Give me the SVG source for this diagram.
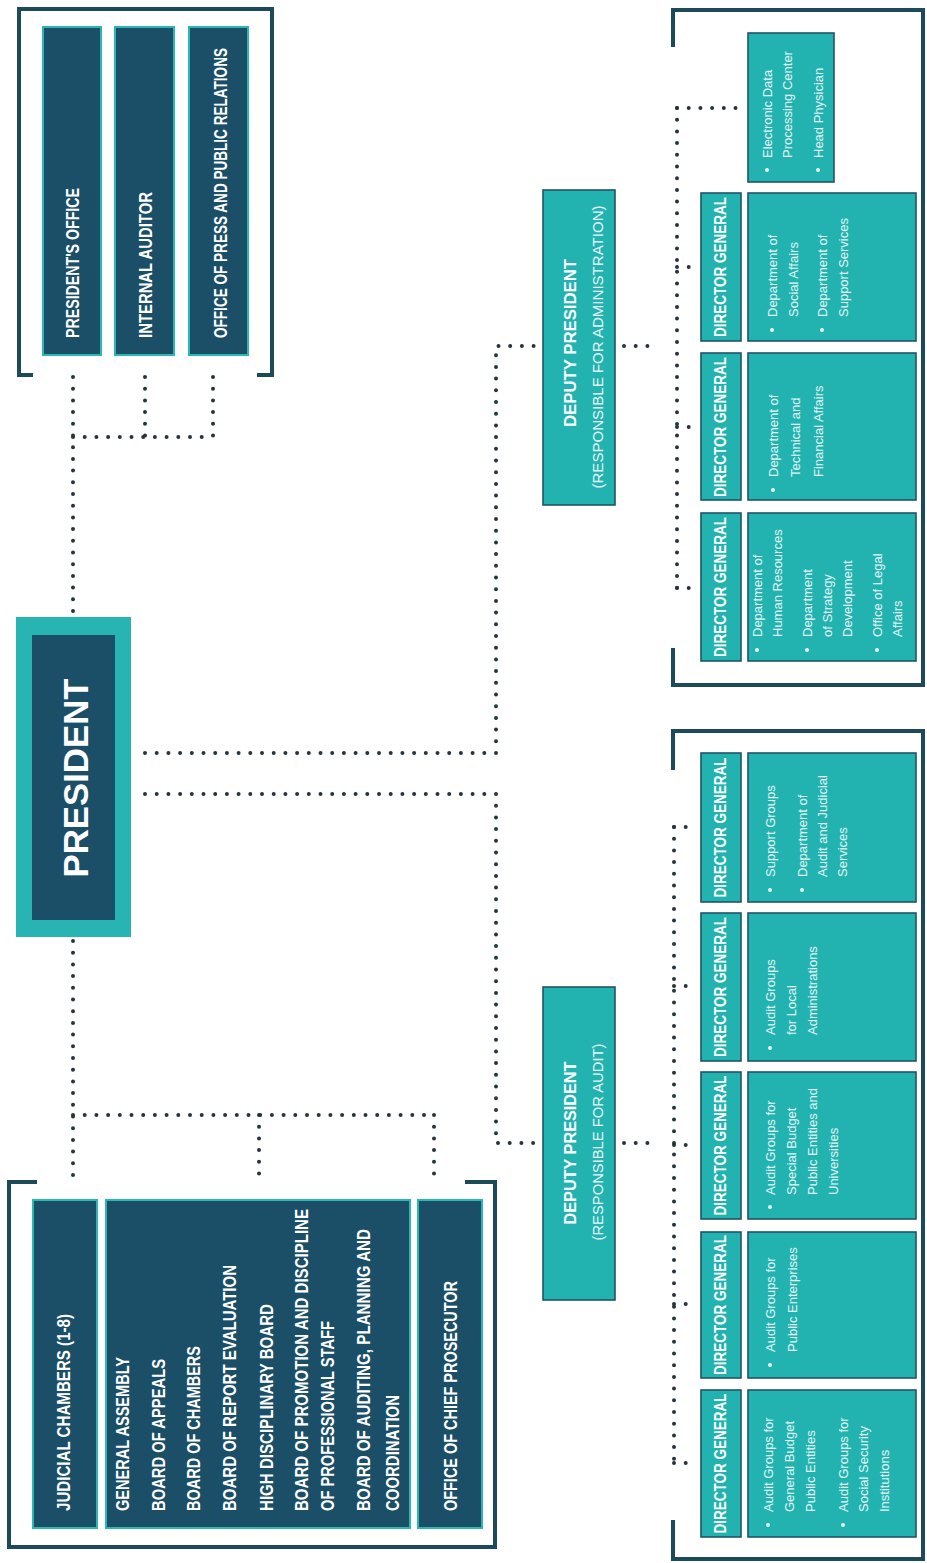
<svg xmlns="http://www.w3.org/2000/svg" width="927" height="1563" viewBox="0 0 927 1563">
<style>
.bg{fill:#ffffff}
.dark{fill:#1b4e67;stroke:#2ab7b5;stroke-width:2}
.teal{fill:#22b3b1;stroke:#1e5568;stroke-width:1.6}
.frame{fill:none;stroke:#1d4a5b;stroke-width:4}
.dots{fill:none;stroke:#26343d;stroke-width:4;stroke-linecap:round;stroke-dasharray:0 11.7}
.t{font-family:"Liberation Sans Narrow","Liberation Sans",Arial,sans-serif;fill:#ffffff}
.cap{font-size:18px;font-weight:bold}
.pres{font-size:35px;font-weight:bold;font-family:"Liberation Sans",Arial,sans-serif;fill:#ffffff}
.dp1{font-size:16px;font-weight:bold}
.dp2{font-size:14px;fill:#e8f7f6}
.dg{font-size:17px;font-weight:bold}
.b{font-size:13px;fill:#e3f5f4;font-family:"Liberation Sans",Arial,sans-serif}
.bul{fill:#e3f5f4}
</style>
<rect class="bg" x="0" y="0" width="927" height="1563"/>

<g id="connectors">
<path class="dots" d="M73,377 V615"/>
<path class="dots" d="M73,437 H213"/>
<path class="dots" d="M145,377 V437"/>
<path class="dots" d="M213,377 V437"/>
<path class="dots" d="M73,941 V1178"/>
<path class="dots" d="M73,1115 H434"/>
<path class="dots" d="M259,1115 V1178"/>
<path class="dots" d="M434,1115 V1178"/>
<path class="dots" d="M145,753 H496 V346 H540"/>
<path class="dots" d="M145,794 H496 V1143 H540"/>
<path class="dots" d="M624,346 H656"/>
<path class="dots" d="M624,1143 H656"/>
<path class="dots" d="M677,108 V588"/>
<path class="dots" d="M677,108 H742"/>
<path class="dots" d="M677,267 H697"/>
<path class="dots" d="M677,427 H697"/>
<path class="dots" d="M677,588 H697"/>
<path class="dots" d="M674,827 V1463"/>
<path class="dots" d="M674,827 H697"/>
<path class="dots" d="M674,986 H697"/>
<path class="dots" d="M674,1145 H697"/>
<path class="dots" d="M674,1304 H697"/>
<path class="dots" d="M674,1463 H697"/>
</g>

<g id="staff-group">
<path class="frame" d="M33,375 H19 V9 H272 V375 H257"/>
<g id="presidents-office">
<rect class="dark" x="43" y="27" width="58" height="328"/>
<text class="t cap" transform="translate(78.5,338) rotate(-90)" textLength="150" lengthAdjust="spacingAndGlyphs">PRESIDENT'S OFFICE</text>
</g>
<g id="internal-auditor">
<rect class="dark" x="115" y="27" width="59" height="328"/>
<text class="t cap" transform="translate(151.5,338) rotate(-90)" textLength="146" lengthAdjust="spacingAndGlyphs">INTERNAL AUDITOR</text>
</g>
<g id="press-office">
<rect class="dark" x="189" y="27" width="59" height="328"/>
<text class="t cap" transform="translate(226.5,338) rotate(-90)" textLength="290" lengthAdjust="spacingAndGlyphs">OFFICE OF PRESS AND PUBLIC RELATIONS</text>
</g>
</g>

<g id="president">
<rect x="16" y="617" width="115" height="320" fill="#27b4b3"/>
<rect x="32" y="635" width="83" height="285" fill="#1b4e67"/>
<text class="pres" transform="translate(87.5,778) rotate(-90)" text-anchor="middle" textLength="199" lengthAdjust="spacingAndGlyphs">PRESIDENT</text>
</g>

<g id="boards-group">
<path class="frame" d="M37,1182 H9 V1547 H495 V1182 H465"/>
<g id="judicial-chambers">
<rect class="dark" x="33" y="1200" width="64" height="328"/>
<text class="t cap" transform="translate(69.5,1511) rotate(-90)" textLength="197" lengthAdjust="spacingAndGlyphs">JUDICIAL CHAMBERS (1-8)</text>
</g>
<g id="boards">
<rect class="dark" x="106" y="1200" width="304" height="328"/>
<text class="t cap" transform="translate(128.5,1511) rotate(-90)" textLength="154" lengthAdjust="spacingAndGlyphs">GENERAL ASSEMBLY</text>
<text class="t cap" transform="translate(164.5,1511) rotate(-90)" textLength="152" lengthAdjust="spacingAndGlyphs">BOARD OF APPEALS</text>
<text class="t cap" transform="translate(199.5,1511) rotate(-90)" textLength="165" lengthAdjust="spacingAndGlyphs">BOARD OF CHAMBERS</text>
<text class="t cap" transform="translate(235.5,1511) rotate(-90)" textLength="246" lengthAdjust="spacingAndGlyphs">BOARD OF REPORT EVALUATION</text>
<text class="t cap" transform="translate(272.5,1511) rotate(-90)" textLength="207" lengthAdjust="spacingAndGlyphs">HIGH DISCIPLINARY BOARD</text>
<text class="t cap" transform="translate(307.5,1511) rotate(-90)" textLength="302" lengthAdjust="spacingAndGlyphs">BOARD OF PROMOTION AND DISCIPLINE</text>
<text class="t cap" transform="translate(333.5,1511) rotate(-90)" textLength="190" lengthAdjust="spacingAndGlyphs">OF PROFESSIONAL STAFF</text>
<text class="t cap" transform="translate(369.5,1511) rotate(-90)" textLength="282" lengthAdjust="spacingAndGlyphs">BOARD OF AUDITING, PLANNING AND</text>
<text class="t cap" transform="translate(398.5,1511) rotate(-90)" textLength="116" lengthAdjust="spacingAndGlyphs">COORDINATION</text>
</g>
<g id="chief-prosecutor">
<rect class="dark" x="418" y="1200" width="64" height="328"/>
<text class="t cap" transform="translate(456.5,1511) rotate(-90)" textLength="230" lengthAdjust="spacingAndGlyphs">OFFICE OF CHIEF PROSECUTOR</text>
</g>
</g>

<g id="deputy-admin">
<rect class="teal" x="543" y="190" width="72" height="315"/>
<text class="t dp1" transform="translate(576,343) rotate(-90)" text-anchor="middle" textLength="168" lengthAdjust="spacingAndGlyphs">DEPUTY PRESIDENT</text>
<text class="t dp2" transform="translate(603,347) rotate(-90)" text-anchor="middle" textLength="283" lengthAdjust="spacingAndGlyphs">(RESPONSIBLE FOR ADMINISTRATION)</text>
</g>

<g id="deputy-audit">
<rect class="teal" x="543" y="987" width="72" height="313"/>
<text class="t dp1" transform="translate(576,1143) rotate(-90)" text-anchor="middle" textLength="163" lengthAdjust="spacingAndGlyphs">DEPUTY PRESIDENT</text>
<text class="t dp2" transform="translate(603,1142) rotate(-90)" text-anchor="middle" textLength="197" lengthAdjust="spacingAndGlyphs">(RESPONSIBLE FOR AUDIT)</text>
</g>

<g id="admin-group">
<path class="frame" d="M673,47 V10 H923 V685 H673 V648"/>
<g id="admin-units">
<rect class="teal" x="748" y="33" width="86" height="149"/>
<circle class="bul" cx="767" cy="170" r="2"/>
<text class="b" transform="translate(771.7,158) rotate(-90)">Electronic Data</text>
<text class="b" transform="translate(791.7,158) rotate(-90)">Processing Center</text>
<circle class="bul" cx="818" cy="170" r="2"/>
<text class="b" transform="translate(822.7,158) rotate(-90)">Head Physician</text>
</g>
<g id="admin-dg1">
<rect class="teal" x="701" y="193" width="40" height="148"/>
<text class="t dg" transform="translate(726,267) rotate(-90)" text-anchor="middle" textLength="140" lengthAdjust="spacingAndGlyphs">DIRECTOR GENERAL</text>
<rect class="teal" x="748" y="193" width="168" height="148"/>
<circle class="bul" cx="772" cy="330" r="2"/>
<text class="b" transform="translate(776.7,317) rotate(-90)">Department of</text>
<text class="b" transform="translate(797.7,317) rotate(-90)">Social Affairs</text>
<circle class="bul" cx="822" cy="330" r="2"/>
<text class="b" transform="translate(826.7,317) rotate(-90)">Department of</text>
<text class="b" transform="translate(847.7,317) rotate(-90)">Support Services</text>
</g>
<g id="admin-dg2">
<rect class="teal" x="701" y="353" width="40" height="147"/>
<text class="t dg" transform="translate(726,427) rotate(-90)" text-anchor="middle" textLength="140" lengthAdjust="spacingAndGlyphs">DIRECTOR GENERAL</text>
<rect class="teal" x="748" y="353" width="168" height="147"/>
<circle class="bul" cx="773" cy="490" r="2"/>
<text class="b" transform="translate(777.7,477) rotate(-90)">Department of</text>
<text class="b" transform="translate(799.7,477) rotate(-90)">Technical and</text>
<text class="b" transform="translate(822.7,477) rotate(-90)">Financial Affairs</text>
</g>
<g id="admin-dg3">
<rect class="teal" x="701" y="513" width="40" height="148"/>
<text class="t dg" transform="translate(726,587) rotate(-90)" text-anchor="middle" textLength="140" lengthAdjust="spacingAndGlyphs">DIRECTOR GENERAL</text>
<rect class="teal" x="748" y="513" width="168" height="148"/>
<circle class="bul" cx="757" cy="650" r="2"/>
<text class="b" transform="translate(761.7,637) rotate(-90)">Department of</text>
<text class="b" transform="translate(781.7,637) rotate(-90)">Human Resources</text>
<circle class="bul" cx="807" cy="650" r="2"/>
<text class="b" transform="translate(811.7,637) rotate(-90)">Department</text>
<text class="b" transform="translate(831.7,637) rotate(-90)">of Strategy</text>
<text class="b" transform="translate(851.7,637) rotate(-90)">Development</text>
<circle class="bul" cx="877" cy="650" r="2"/>
<text class="b" transform="translate(881.7,637) rotate(-90)">Office of Legal</text>
<text class="b" transform="translate(901.7,637) rotate(-90)">Affairs</text>
</g>
</g>

<g id="audit-group">
<path class="frame" d="M673,770 V731 H923 V1559 H673 V1520"/>
<g id="audit-dg1">
<rect class="teal" x="701" y="753" width="40" height="149"/>
<text class="t dg" transform="translate(726,827.5) rotate(-90)" text-anchor="middle" textLength="140" lengthAdjust="spacingAndGlyphs">DIRECTOR GENERAL</text>
<rect class="teal" x="748" y="753" width="168" height="149"/>
<circle class="bul" cx="770" cy="890" r="2"/>
<text class="b" transform="translate(774.7,877) rotate(-90)">Support Groups</text>
<circle class="bul" cx="802" cy="890" r="2"/>
<text class="b" transform="translate(806.7,877) rotate(-90)">Department of</text>
<text class="b" transform="translate(826.7,877) rotate(-90)">Audit and Judicial</text>
<text class="b" transform="translate(846.7,877) rotate(-90)">Services</text>
</g>
<g id="audit-dg2">
<rect class="teal" x="701" y="913" width="40" height="148"/>
<text class="t dg" transform="translate(726,987) rotate(-90)" text-anchor="middle" textLength="140" lengthAdjust="spacingAndGlyphs">DIRECTOR GENERAL</text>
<rect class="teal" x="748" y="913" width="168" height="148"/>
<circle class="bul" cx="770" cy="1048" r="2"/>
<text class="b" transform="translate(774.7,1035) rotate(-90)">Audit Groups</text>
<text class="b" transform="translate(795.7,1035) rotate(-90)">for Local</text>
<text class="b" transform="translate(816.7,1035) rotate(-90)">Administrations</text>
</g>
<g id="audit-dg3">
<rect class="teal" x="701" y="1072" width="40" height="147"/>
<text class="t dg" transform="translate(726,1145.5) rotate(-90)" text-anchor="middle" textLength="140" lengthAdjust="spacingAndGlyphs">DIRECTOR GENERAL</text>
<rect class="teal" x="748" y="1072" width="168" height="147"/>
<circle class="bul" cx="770" cy="1207" r="2"/>
<text class="b" transform="translate(774.7,1195) rotate(-90)">Audit Groups for</text>
<text class="b" transform="translate(795.7,1195) rotate(-90)">Special Budget</text>
<text class="b" transform="translate(816.7,1195) rotate(-90)">Public Entities and</text>
<text class="b" transform="translate(837.7,1195) rotate(-90)">Universities</text>
</g>
<g id="audit-dg4">
<rect class="teal" x="701" y="1232" width="40" height="146"/>
<text class="t dg" transform="translate(726,1305) rotate(-90)" text-anchor="middle" textLength="140" lengthAdjust="spacingAndGlyphs">DIRECTOR GENERAL</text>
<rect class="teal" x="748" y="1232" width="168" height="146"/>
<circle class="bul" cx="770" cy="1365" r="2"/>
<text class="b" transform="translate(774.7,1352) rotate(-90)">Audit Groups for</text>
<text class="b" transform="translate(796.7,1352) rotate(-90)">Public Enterprises</text>
</g>
<g id="audit-dg5">
<rect class="teal" x="701" y="1390" width="40" height="147"/>
<text class="t dg" transform="translate(726,1463.5) rotate(-90)" text-anchor="middle" textLength="140" lengthAdjust="spacingAndGlyphs">DIRECTOR GENERAL</text>
<rect class="teal" x="748" y="1390" width="168" height="147"/>
<circle class="bul" cx="768" cy="1525" r="2"/>
<text class="b" transform="translate(772.7,1512) rotate(-90)">Audit Groups for</text>
<text class="b" transform="translate(793.7,1512) rotate(-90)">General Budget</text>
<text class="b" transform="translate(814.7,1512) rotate(-90)">Public Entities</text>
<circle class="bul" cx="843" cy="1525" r="2"/>
<text class="b" transform="translate(847.7,1512) rotate(-90)">Audit Groups for</text>
<text class="b" transform="translate(867.7,1512) rotate(-90)">Social Security</text>
<text class="b" transform="translate(888.7,1512) rotate(-90)">Institutions</text>
</g>
</g>
</svg>
